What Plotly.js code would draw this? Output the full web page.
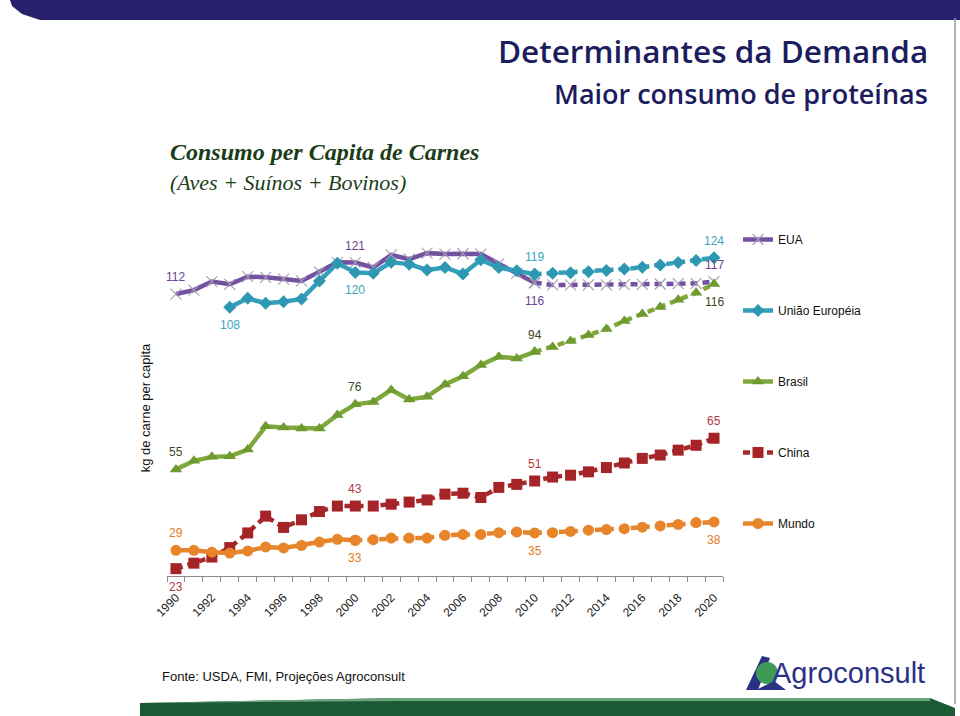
<!DOCTYPE html>
<html>
<head>
<meta charset="utf-8">
<script src="https://cdn.plot.ly/plotly-3.0.1.min.js"></script>
<style>
  html, body { margin: 0; padding: 0; background: #ffffff; }
  #chart { width: 960px; height: 716px; }
</style>
</head>
<body>
<div id="chart"></div>
<script>
// ---------- data ----------
const years = [1990,1991,1992,1993,1994,1995,1996,1997,1998,1999,2000,2001,2002,2003,2004,2005,2006,2007,2008,2009,2010,2011,2012,2013,2014,2015,2016,2017,2018,2019,2020];
const tickYears = [1990,1992,1994,1996,1998,2000,2002,2004,2006,2008,2010,2012,2014,2016,2018,2020];
const tickLabels = ['1990','1992','1994','1996','1998','2000','2002','2004','2006','2008','2010','2012','2014','2016','2018','2020'];

const eua    = [112.9,114.2,117.0,116.1,118.6,118.4,117.8,117.2,120.2,123.3,123.2,121.6,125.7,124.3,126.3,126.0,126.1,126.0,122.8,119.7,116.6,115.9,115.9,115.9,115.9,116.0,116.1,116.2,116.3,116.4,117.0];
const ue     = [null,null,null,108.6,111.5,109.9,110.4,111.3,117.2,123.0,120.0,119.7,123.3,122.7,120.8,121.6,119.5,124.1,121.6,120.5,119.4,119.7,119.9,120.2,120.6,121.1,121.7,122.4,123.2,123.9,124.8];
const brasil = [55.5,58.3,59.6,59.8,62.0,69.6,69.2,68.9,68.9,73.3,76.8,77.6,81.5,78.4,79.3,83.3,86.0,89.7,92.4,91.8,94.0,95.6,97.5,99.5,101.5,104.1,106.4,108.7,111.0,113.3,116.2];
const china  = [23.0,24.8,26.8,29.9,34.7,40.2,36.5,39.0,41.7,43.5,43.5,43.5,44.1,44.8,45.5,47.4,47.7,46.3,49.6,50.6,51.7,53.0,53.6,54.7,56.1,57.6,59.1,60.2,61.8,63.4,65.7];
const mundo  = [29.0,29.0,28.4,28.1,28.8,30.1,29.8,30.6,31.7,32.6,32.3,32.5,33.0,33.0,33.0,33.9,34.2,34.2,34.8,35.0,34.7,34.8,35.2,35.6,35.8,36.1,36.6,37.0,37.5,38.1,38.3];

// data labels shown in the reference
const euaLabelYears = [1990,2000,2010,2020];  const euaLabels = ['112','121','116','117'];  const euaLabelPos = ['up','up','down','up'];
const ueLabelYears  = [1993,2000,2010,2020];  const ueLabels  = ['108','120','119','124'];  const ueLabelPos  = ['down','down','up','up'];
const brLabelYears  = [1990,2000,2010,2020];  const brLabels  = ['55','76','94','116'];    const brLabelPos  = ['up','up','up','down'];
const chLabelYears  = [1990,2000,2010,2020];  const chLabels  = ['23','43','51','65'];     const chLabelPos  = ['down','up','up','up'];
const muLabelYears  = [1990,2000,2010,2020];  const muLabels  = ['29','33','35','38'];     const muLabelPos  = ['up','down','down','down'];

// ---------- series styling ----------
const FONT = 'Liberation Sans, Arial, sans-serif';
const series = [
  {name:'EUA', y:eua, color:'#7451a0', labelColor:'#6b3f93', solidTo:2010,
   marker:{symbol:'x-thin', size:11, line:{width:1.1, color:'#a49db0'}, color:'#a49db0'},
   ly:euaLabelYears, lt:euaLabels, lp:euaLabelPos},
  {name:'União Européia', y:ue, color:'#339fba', labelColor:'#3aa3c2', solidTo:2010,
   marker:{symbol:'diamond', size:10, color:'#2e98b2'},
   ly:ueLabelYears, lt:ueLabels, lp:ueLabelPos},
  {name:'Brasil', y:brasil, color:'#7ea83c', labelColor:'#3b4824', solidTo:2010,
   marker:{symbol:'triangle-up', size:11, color:'#6e9a30'},
   ly:brLabelYears, lt:brLabels, lp:brLabelPos},
  {name:'China', y:china, color:'#a8292c', labelColor:'#b0393d', solidTo:null,
   marker:{symbol:'square', size:11, color:'#a52428'},
   ly:chLabelYears, lt:chLabels, lp:chLabelPos},
  {name:'Mundo', y:mundo, color:'#e6852b', labelColor:'#e27a1c', solidTo:2000,
   marker:{symbol:'circle', size:11, color:'#e8842a'},
   ly:muLabelYears, lt:muLabels, lp:muLabelPos}
];

const traces = [];
const annotations = [];
series.forEach((s, i) => {
  const lw = 4.5;
  if (s.solidTo !== null) {
    const ySolid = s.y.map((v, k) => years[k] <= s.solidTo ? v : null);
    const yDash  = s.y.map((v, k) => years[k] >= s.solidTo ? v : null);
    traces.push({x: years, y: ySolid, type:'scatter', mode:'lines+markers', name:s.name,
      legendgroup:'g'+i, showlegend:true,
      line:{color:s.color, width:lw}, marker:s.marker, hoverinfo:'x+y'});
    traces.push({x: years, y: yDash, type:'scatter', mode:'lines+markers', name:s.name,
      legendgroup:'g'+i, showlegend:false,
      line:{color:s.color, width:lw, dash:'7px,5px'}, marker:s.marker, hoverinfo:'x+y'});
  } else {
    traces.push({x: years, y: s.y, type:'scatter', mode:'lines+markers', name:s.name,
      legendgroup:'g'+i, showlegend:true,
      line:{color:s.color, width:lw, dash:'7px,5px'}, marker:s.marker, hoverinfo:'x+y'});
  }
  s.ly.forEach((yr, j) => {
    const idx = years.indexOf(yr);
    annotations.push({x: yr, y: s.y[idx], xref:'x', yref:'y', text: s.lt[j], showarrow:false,
      yshift: s.lp[j] === 'up' ? 17 : -18,
      font:{family:FONT, size:12, color:s.labelColor}});
  });
});

// ---------- pixel helpers for slide decorations ----------
const L = 167, R = 723, T = 240, B = 576;
const px = v => (v - L) / (R - L);
const py = v => (B - v) / (B - T);

// slide text
annotations.push(
  {xref:'paper', yref:'paper', x:px(930), y:py(50), xanchor:'right', yanchor:'middle', showarrow:false,
   text:'Determinantes da Demanda', font:{family:'Open Sans, sans-serif', size:31.5, color:'#1b1d5e', weight:600}},
  {xref:'paper', yref:'paper', x:px(930), y:py(93), xanchor:'right', yanchor:'middle', showarrow:false,
   text:'Maior consumo de proteínas', font:{family:'Open Sans, sans-serif', size:27, color:'#1b1d5e', weight:600}},
  {xref:'paper', yref:'paper', x:px(168), y:py(152), xanchor:'left', yanchor:'middle', showarrow:false,
   text:'<b><i>Consumo per Capita de Carnes</i></b>', font:{family:'Liberation Serif, serif', size:24, color:'#1c3d18'}},
  {xref:'paper', yref:'paper', x:px(168), y:py(183), xanchor:'left', yanchor:'middle', showarrow:false,
   text:'<i>(Aves + Suínos + Bovinos)</i>', font:{family:'Liberation Serif, serif', size:22, color:'#1c3d18'}},
  {xref:'paper', yref:'paper', x:px(160), y:py(676), xanchor:'left', yanchor:'middle', showarrow:false,
   text:'Fonte: USDA, FMI, Projeções Agroconsult', font:{family:FONT, size:13, color:'#111111'}},
  {xref:'paper', yref:'paper', x:px(770), y:py(673), xanchor:'left', yanchor:'middle', showarrow:false,
   text:'Agroconsult', font:{family:FONT, size:29, color:'#2b3183'}}
);

function P(pts) { return 'M' + pts.map(p => px(p[0]) + ',' + py(p[1])).join(' L') + ' Z'; }

const shapes = [
  // top navy band
  {type:'path', xref:'paper', yref:'paper', path: P([[10,0],[960,0],[960,20],[40,20],[22,14],[12,6]]),
   fillcolor:'#27216b', line:{width:0}, layer:'below'},
  // bottom green band
  {type:'path', xref:'paper', yref:'paper', path: P([[140,716],[140,703],[400,698],[930,698],[955,708],[955,716]]),
   fillcolor:'#1c5a36', line:{width:0}, layer:'below'},
  {type:'path', xref:'paper', yref:'paper', path: P([[140,703],[400,698],[930,698],[930,701],[400,701]]),
   fillcolor:'#6aa47c', line:{width:0}, layer:'below'},
  // right border
  {type:'line', xref:'paper', yref:'paper', x0:px(955), x1:px(955), y0:py(18), y1:py(704),
   line:{color:'#9a9a9a', width:1.5}},
  // logo mark
  {type:'path', xref:'paper', yref:'paper', path: P([[746,690],[762,656],[770,658],[758,690]]),
   fillcolor:'#2b3183', line:{width:0}},
  {type:'circle', xref:'paper', yref:'paper', x0:px(756), x1:px(778), y0:py(684), y1:py(662),
   fillcolor:'#3f9a55', line:{width:0}},
  {type:'path', xref:'paper', yref:'paper', path: P([[756,690],[786,690],[774,681]]),
   fillcolor:'#2b3183', line:{width:0}}
];

const layout = {
  width: 960, height: 716,
  margin: {l: L, r: 960 - R, t: T, b: 716 - B, pad: 0},
  paper_bgcolor: '#ffffff', plot_bgcolor: '#ffffff',
  font: {family: FONT, size: 12, color: '#222'},
  showlegend: true,
  legend: {x: px(738), y: py(225), xanchor:'left', yanchor:'top', tracegroupgap: 52,
           font:{family:FONT, size:12, color:'#111'}, bgcolor:'rgba(0,0,0,0)', itemwidth:30},
  xaxis: {range:[1989.5, 2020.5], tickmode:'array', tickvals: tickYears, ticktext: tickLabels,
          tickangle:-45, ticks:'', ticklabelstandoff:9, showline:true, linecolor:'#8c8c8c', linewidth:1,
          showgrid:false, zeroline:false, tickfont:{family:FONT, size:12, color:'#222'},
          minor:{tick0:1989.5, dtick:1, ticks:'outside', ticklen:5, tickcolor:'#8c8c8c', showgrid:false}},
  yaxis: {range:[20.6, 130.6], showline:false, showticklabels:false, ticks:'', showgrid:false, zeroline:false,
          title:{text:'kg de carne per capita', font:{family:FONT, size:13, color:'#111'}, standoff:12}},
  annotations: annotations,
  shapes: shapes
};

Plotly.newPlot('chart', traces, layout, {displayModeBar:false, staticPlot:true});
</script>
</body>
</html>
